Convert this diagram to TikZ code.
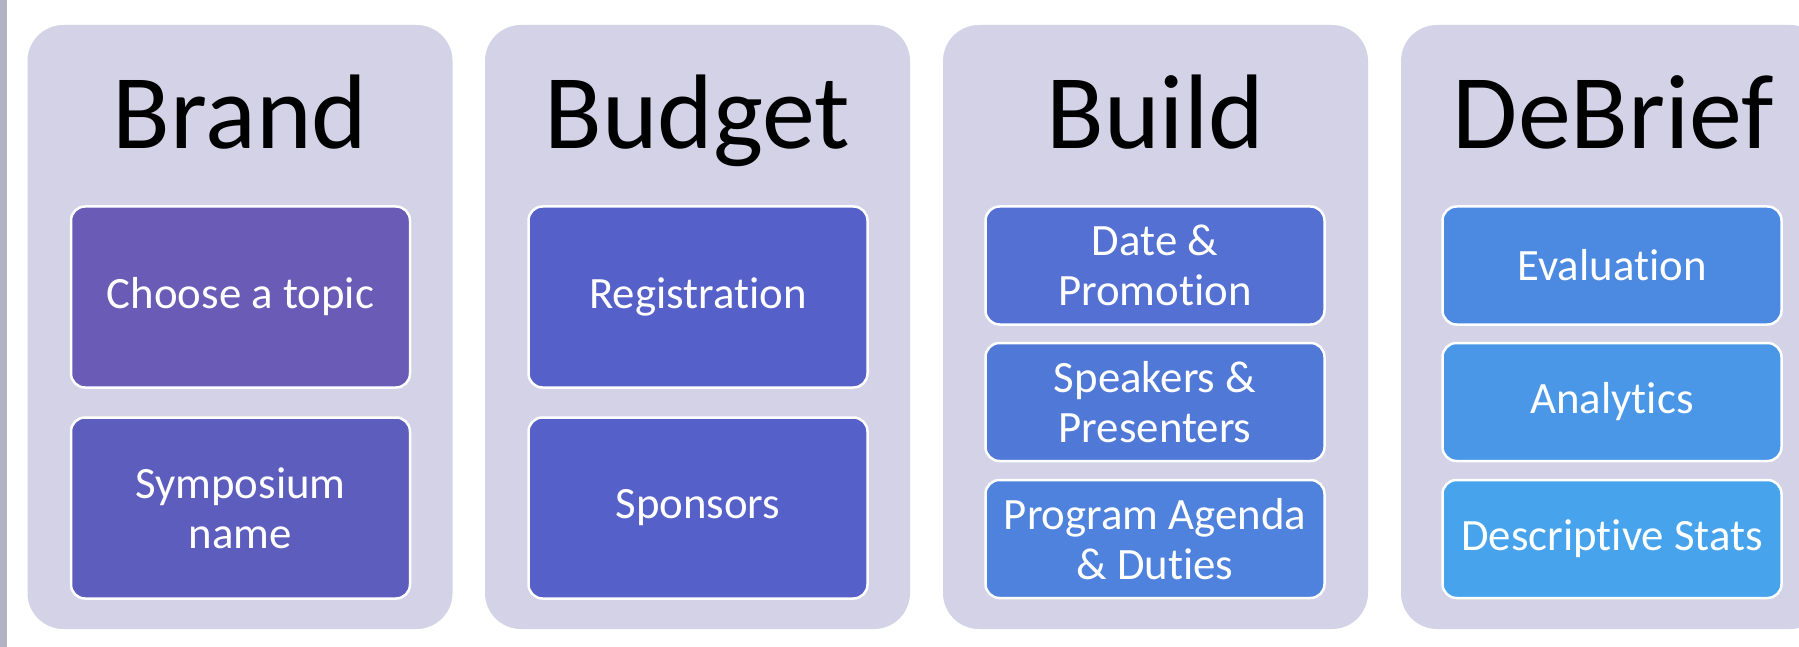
\documentclass[tikz,border=0pt]{standalone}
\usepackage{fontspec}
\setmainfont{Carlito}[RawFeature={-liga;-clig;-calt;-dlig}]
\definecolor{panelc}{HTML}{D3D2E6}
\definecolor{stripc}{HTML}{B3B2C3}
\definecolor{cA}{HTML}{6A5CB6}
\definecolor{cB}{HTML}{5D5DBE}
\definecolor{cC}{HTML}{5560C8}
\definecolor{cD}{HTML}{5470D2}
\definecolor{cE}{HTML}{5078D7}
\definecolor{cF}{HTML}{4E82DC}
\definecolor{cG}{HTML}{4C89E1}
\definecolor{cH}{HTML}{4A97E7}
\definecolor{cI}{HTML}{47A4EC}
\tikzset{
  panel/.style={fill=panelc, draw=none, rounded corners=36pt, minimum width=425pt, minimum height=604pt, inner sep=0pt},
  title/.style={anchor=base, font=\fontsize{106}{112}\selectfont, text=black, inner sep=0pt},
  item/.style={draw=white, line width=2.5pt, rounded corners=14pt, minimum width=339pt, text=white,
    align=center, font=\fontsize{44.8}{49.5}\selectfont, inner sep=0pt},
  tall/.style={item, minimum height=181pt},
  short/.style={item, minimum height=118pt}
}
\begin{document}
\begin{tikzpicture}[x=1pt,y=-1pt]
\useasboundingbox (0,0) rectangle (1799,647);
\clip (0,0) rectangle (1799,647);
\fill[white] (0,0) rectangle (1799,647);
\fill[stripc] (0,0) rectangle (7,647);
% panels
\node[panel] (p1) at (240,327) {};
\node[panel] (p2) at (697.5,327) {};
\node[panel] (p3) at (1155.5,327) {};
\node[panel] (p4) at (1613.5,327) {};
% titles
\node[title] (t1) at (240,149) {Brand};
\node[title] (t2) at (697.5,149) {Budget};
\node[title] (t3) at (1155.5,149) {Build};
\node[title] (t4) at (1613.5,149) {DeBrief};
% Brand
\node[tall, fill=cA] (b1) at (240.5,297) {Choose a topic};
\node[tall, fill=cB] (b2) at (240.5,508) {Symposium\\name};
% Budget
\node[tall, fill=cC] (g1) at (698,297) {Registration};
\node[tall, fill=cC] (g2) at (698,508) {Sponsors};
% Build
\node[short, fill=cD] (u1) at (1155,265.5) {Date \&\\Promotion};
\node[short, fill=cE] (u2) at (1155,402) {Speakers \&\\Presenters};
\node[short, fill=cF] (u3) at (1155,539) {Program Agenda\\\& Duties};
% DeBrief
\node[short, fill=cG] (d1) at (1612,265.5) {Evaluation};
\node[short, fill=cH] (d2) at (1612,402) {Analytics};
\node[short, fill=cI] (d3) at (1612,539) {Descriptive Stats};
\end{tikzpicture}
\end{document}
